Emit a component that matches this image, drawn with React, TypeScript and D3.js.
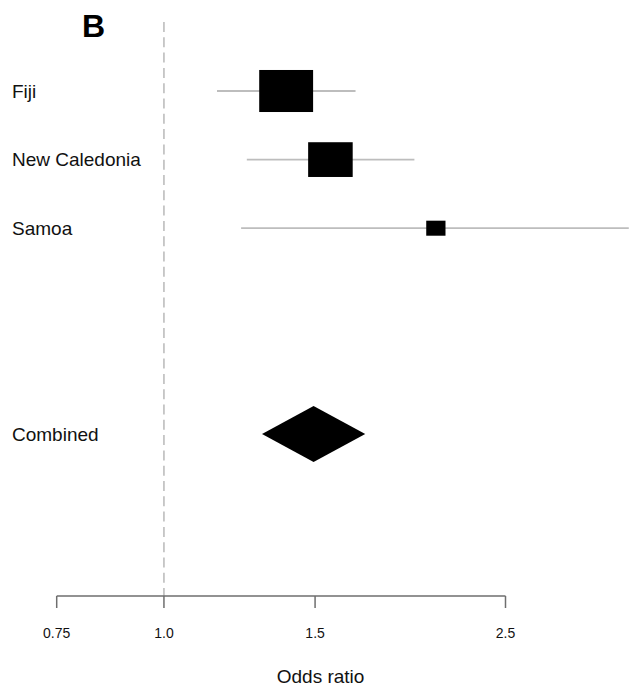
import React from "react";
import * as d3 from "d3";

// Per-study odds ratios with 95% confidence limits
const studies = ["Fiji", "New Caledonia", "Samoa"];
const oddsRatio = [1.388, 1.563, 2.074];
const lowerCI = [1.153, 1.249, 1.23];
const upperCI = [1.672, 1.958, 3.48];

// Pooled estimate
const combinedLabel = "Combined";
const combinedOR = 1.494;
const combinedLower = 1.301;
const combinedUpper = 1.716;

// Axis ticks
const tickValues = [0.75, 1.0, 1.5, 2.5];
const tickLabels = ["0.75", "1.0", "1.5", "2.5"];

const panelLabel = "B";
const axisTitle = "Odds ratio";

const W = 633;
const H = 693;
const FONT = "'Liberation Sans', Arial, Helvetica, sans-serif";

export default function App() {
  const x = d3.scaleLog().domain([0.75, 2.5]).range([56.7, 505.5]);
  // row index -> vertical position (two empty rows before the pooled estimate)
  const y = d3.scaleLinear().domain([0, 1]).range([91, 159.6]);
  const combinedRow = 5;
  const axisY = 596;

  // box width proportional to inverse standard error (precision)
  const se = studies.map((_, i) => (Math.log(upperCI[i]) - Math.log(lowerCI[i])) / 3.92);
  const boxScale = 5.11;
  const boxAspect = 0.78;

  const diamondHalfH = 28;
  const cy = y(combinedRow);
  const diamond = d3.line()([
    [x(combinedLower), cy],
    [x(combinedOR), cy - diamondHalfH],
    [x(combinedUpper), cy],
    [x(combinedOR), cy + diamondHalfH],
  ]) + "Z";

  return (
    <svg
      width={W}
      height={H}
      style={{ position: "absolute", left: 0, top: 0, background: "#fff" }}
      fontFamily={FONT}
    >
      <rect x={0} y={0} width={W} height={H} fill="#fff" />

      {/* panel letter */}
      <text x={82} y={37} fontSize={32} fontWeight="bold" fill="#000">
        {panelLabel}
      </text>

      {/* null-effect reference line */}
      <line
        x1={x(1)}
        x2={x(1)}
        y1={22}
        y2={axisY}
        stroke="#bdbdbd"
        strokeWidth={1.6}
        strokeDasharray="10,5.3"
      />

      {/* study rows */}
      {studies.map((s, i) => {
        const w = boxScale / se[i];
        const h = w * boxAspect;
        const cx = x(oddsRatio[i]);
        return (
          <g key={s}>
            <text x={12} y={y(i)} dy="0.36em" fontSize={19} fill="#111">
              {s}
            </text>
            <line
              x1={x(lowerCI[i])}
              x2={x(upperCI[i])}
              y1={y(i)}
              y2={y(i)}
              stroke="#bdbdbd"
              strokeWidth={1.8}
            />
            <rect x={cx - w / 2} y={y(i) - h / 2} width={w} height={h} fill="#000" />
          </g>
        );
      })}

      {/* pooled estimate */}
      <text x={12} y={cy} dy="0.36em" fontSize={19} fill="#111">
        {combinedLabel}
      </text>
      <path d={diamond} fill="#000" />

      {/* x axis */}
      <line
        x1={x(tickValues[0])}
        x2={x(tickValues[tickValues.length - 1])}
        y1={axisY}
        y2={axisY}
        stroke="#6e6e6e"
        strokeWidth={1.5}
      />
      {tickValues.map((t, i) => (
        <g key={t}>
          <line x1={x(t)} x2={x(t)} y1={axisY} y2={axisY + 12} stroke="#6e6e6e" strokeWidth={1.5} />
          <text x={x(t)} y={637.5} fontSize={14} textAnchor="middle" fill="#111">
            {tickLabels[i]}
          </text>
        </g>
      ))}
      <text x={x(1.5) + 5.5} y={683} fontSize={19} textAnchor="middle" fill="#111">
        {axisTitle}
      </text>
    </svg>
  );
}
